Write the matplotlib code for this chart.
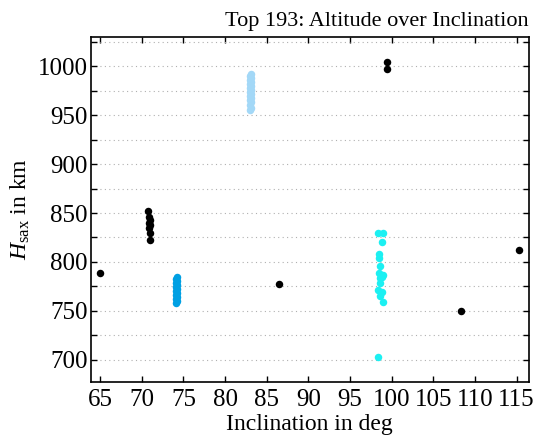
import matplotlib
matplotlib.use("Agg")
import matplotlib.pyplot as plt
from matplotlib.ticker import MultipleLocator

plt.rcParams['font.family'] = ['Liberation Serif', 'DejaVu Serif']
plt.rcParams['mathtext.fontset'] = 'custom'
plt.rcParams['mathtext.rm'] = 'Liberation Serif'
plt.rcParams['mathtext.it'] = 'Liberation Serif:italic'

# Black (isolated / small groups)
black_inc = [65.0, 70.8, 70.9, 71.0, 70.9, 71.0, 70.9, 71.0, 71.0, 86.5, 99.4, 99.4, 108.3, 115.3]
black_alt = [789, 852, 846, 843, 840, 838, 835, 830, 822, 777.5, 1005, 997, 750, 812]

# Blue group (~74 deg)
blue_inc = [74.1, 74.2, 74.1, 74.2, 74.1, 74.2, 74.1, 74.2, 74.1, 74.2, 74.1, 74.2, 74.1, 74.2]
blue_alt = [758, 760, 762, 764, 766, 768, 770, 772, 774, 776, 778, 780, 782, 784]

# Light blue group (~83 deg)
lblue_inc = [83.0, 83.1, 83.0, 83.1, 83.0, 83.1, 83.0, 83.1, 83.0, 83.1, 83.0, 83.1, 83.0, 83.1, 83.0, 83.1, 83.0, 83.1]
lblue_alt = [955, 958, 961, 964, 966, 968, 970, 972, 974, 976, 978, 980, 982, 984, 986, 988, 990, 992]

# Cyan group (~98.5 deg)
cyan_inc = [98.4, 98.9, 98.8, 98.5, 98.5, 98.6, 98.5, 99.0, 98.8, 98.6, 98.6, 98.4, 98.8, 98.6, 98.9, 98.3]
cyan_alt = [829.5, 829.5, 820, 808, 804, 796, 789, 787, 785, 783, 778.5, 771.5, 769, 765, 759, 703]

fig = plt.figure(figsize=(5.46, 4.41), dpi=100)
ax = fig.add_axes([91/546, 1-382/441, (528.7-91)/546, (382-36.7)/441])

ms = 5.4
ax.plot(blue_inc, blue_alt, 'o', color='#00a0e3', ms=ms, mec='none', zorder=3)
ax.plot(lblue_inc, lblue_alt, 'o', color='#a3d8f7', ms=ms, mec='none', zorder=3)
ax.plot(cyan_inc, cyan_alt, 'o', color='#1cf0f2', ms=ms, mec='none', zorder=3)
ax.plot(black_inc, black_alt, 'o', color='black', ms=ms, mec='none', zorder=4)

ax.set_xlim(63.9, 116.45)
ax.set_ylim(677, 1030.5)
ax.xaxis.set_major_locator(MultipleLocator(5))
ax.yaxis.set_major_locator(MultipleLocator(50))
ax.yaxis.set_minor_locator(MultipleLocator(25))

ax.tick_params(which='both', direction='in', top=True, right=True, labelsize=18, width=1.0)
ax.tick_params(which='major', length=4)
ax.tick_params(which='minor', length=4)
ax.tick_params(axis='x', pad=5)
ax.tick_params(axis='y', pad=2.5)
ax.grid(axis='y', which='both', linestyle=(0, (1, 3)), color='#b0b0b0', linewidth=0.8)
for s in ax.spines.values():
    s.set_linewidth(1.2)

ax.set_title('Top 193: Altitude over Inclination', fontsize=16, pad=8, loc='right')
ax.set_xlabel('Inclination in deg', fontsize=17, labelpad=2)
ax.set_ylabel(r'$H_{\mathrm{sax}}$ in km', fontsize=17, labelpad=4)

fig.savefig('out.png', dpi=100)
